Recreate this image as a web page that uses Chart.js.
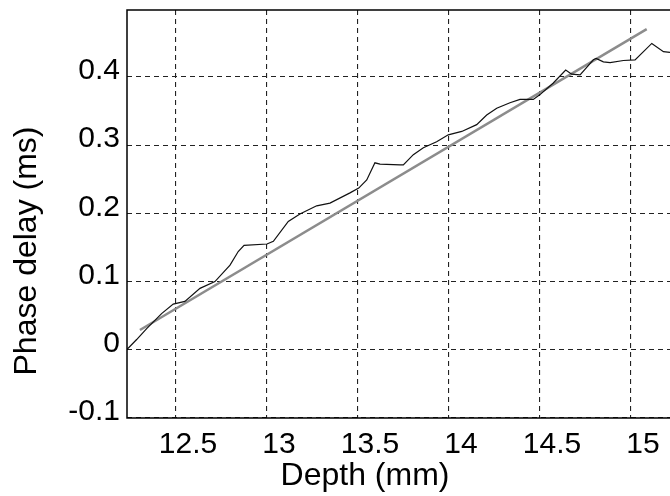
<!DOCTYPE html>
<html>
<head>
<meta charset="utf-8">
<script src="https://cdn.jsdelivr.net/npm/chart.js@4/dist/chart.umd.min.js"></script>
<style>
  html, body { margin: 0; padding: 0; background: #fff; }
  canvas { display: block; }
</style>
</head>
<body>
<canvas id="c" width="670" height="496"></canvas>
<script>
// measured phase delay vs depth
const depth = [12.229, 12.284, 12.339, 12.421, 12.485, 12.549, 12.632, 12.714, 12.797, 12.842,
    12.874, 13.0, 13.035, 13.117, 13.181, 13.273, 13.346, 13.456, 13.504, 13.548,
    13.593, 13.621, 13.731, 13.749, 13.804, 13.859, 13.932, 13.996, 14.07, 14.152,
    14.207, 14.262, 14.335, 14.39, 14.463, 14.5, 14.573, 14.641, 14.674, 14.72,
    14.793, 14.808, 14.848, 14.885, 14.958, 15.022, 15.114, 15.178, 15.214];
const delay = [0.0, 0.015, 0.031, 0.053, 0.067, 0.071, 0.090, 0.100, 0.124, 0.144,
    0.153, 0.155, 0.159, 0.188, 0.199, 0.211, 0.215, 0.230, 0.237, 0.249,
    0.274, 0.272, 0.271, 0.271, 0.286, 0.296, 0.305, 0.315, 0.320, 0.330,
    0.344, 0.354, 0.362, 0.367, 0.367, 0.374, 0.391, 0.410, 0.404, 0.403,
    0.425, 0.427, 0.422, 0.421, 0.424, 0.425, 0.449, 0.437, 0.436];

// linear fit endpoints
const fitDepth = [12.302, 15.086];
const fitDelay = [0.029, 0.470];

const xTicks = [12.5, 13, 13.5, 14, 14.5, 15];
const yTicks = [-0.1, 0, 0.1, 0.2, 0.3, 0.4];

const FONT = "'Liberation Sans', Arial, sans-serif";

const framePlugin = {
    id: 'frame',
    afterDraw(chart) {
        const { ctx, chartArea: a } = chart;
        ctx.save();
        ctx.strokeStyle = '#000';
        ctx.lineWidth = 1.5;
        ctx.beginPath();
        ctx.moveTo(a.right + 2, a.top);
        ctx.lineTo(a.left, a.top);
        ctx.lineTo(a.left, a.bottom);
        ctx.lineTo(a.right + 2, a.bottom);
        ctx.stroke();

        // axis titles
        ctx.fillStyle = '#000';
        ctx.font = '32px ' + FONT;
        ctx.textAlign = 'center';
        ctx.textBaseline = 'middle';
        ctx.fillText('Depth (mm)', 365, 476);
        ctx.translate(27, 251);
        ctx.rotate(-Math.PI / 2);
        ctx.fillText('Phase delay (ms)', 0, 0);
        ctx.restore();
    }
};

const toXY = (xs, ys) => xs.map((x, i) => ({ x, y: ys[i] }));

new Chart(document.getElementById('c'), {
    type: 'scatter',
    data: {
        datasets: [
            {
                label: 'fit',
                data: toXY(fitDepth, fitDelay),
                showLine: true,
                borderColor: '#8c8c8c',
                borderWidth: 2.5,
                pointRadius: 0,
                order: 1
            },
            {
                label: 'measured',
                data: toXY(depth, delay),
                showLine: true,
                borderColor: '#111',
                borderWidth: 1.2,
                pointRadius: 0,
                tension: 0,
                order: 0
            }
        ]
    },
    options: {
        responsive: false,
        animation: false,
        layout: { padding: { top: 10, right: 0, left: 0, bottom: 0 } },
        plugins: { legend: { display: false }, tooltip: { enabled: false } },
        scales: {
            x: {
                type: 'linear',
                min: 12.231,
                max: 15.214,
                afterBuildTicks: s => { s.ticks = xTicks.map(v => ({ value: v })); },
                afterFit: s => { s.height = 78; s.paddingLeft = 0; s.paddingRight = 0; },
                border: { display: false, dash: [5, 4] },
                grid: { color: '#222', lineWidth: 1.1, drawTicks: false },
                ticks: {
                    color: '#000',
                    font: { family: FONT, size: 30 },
                    padding: 9,
                    labelOffset: 12,
                    maxRotation: 0,
                    autoSkip: false,
                    callback: v => String(Math.round(v * 10) / 10)
                }
            },
            y: {
                type: 'linear',
                min: -0.1,
                max: 0.498,
                afterBuildTicks: s => { s.ticks = yTicks.map(v => ({ value: v })); },
                afterFit: s => { s.width = 127; s.paddingTop = 0; s.paddingBottom = 0; },
                border: { display: false, dash: [5, 4] },
                grid: { color: '#222', lineWidth: 1.1, drawTicks: false },
                ticks: {
                    color: '#000',
                    font: { family: FONT, size: 30 },
                    padding: 7,
                    labelOffset: -6,
                    autoSkip: false,
                    callback: v => Math.abs(v) < 1e-9 ? '0' : v.toFixed(1)
                }
            }
        }
    },
    plugins: [framePlugin]
});
</script>
</body>
</html>
